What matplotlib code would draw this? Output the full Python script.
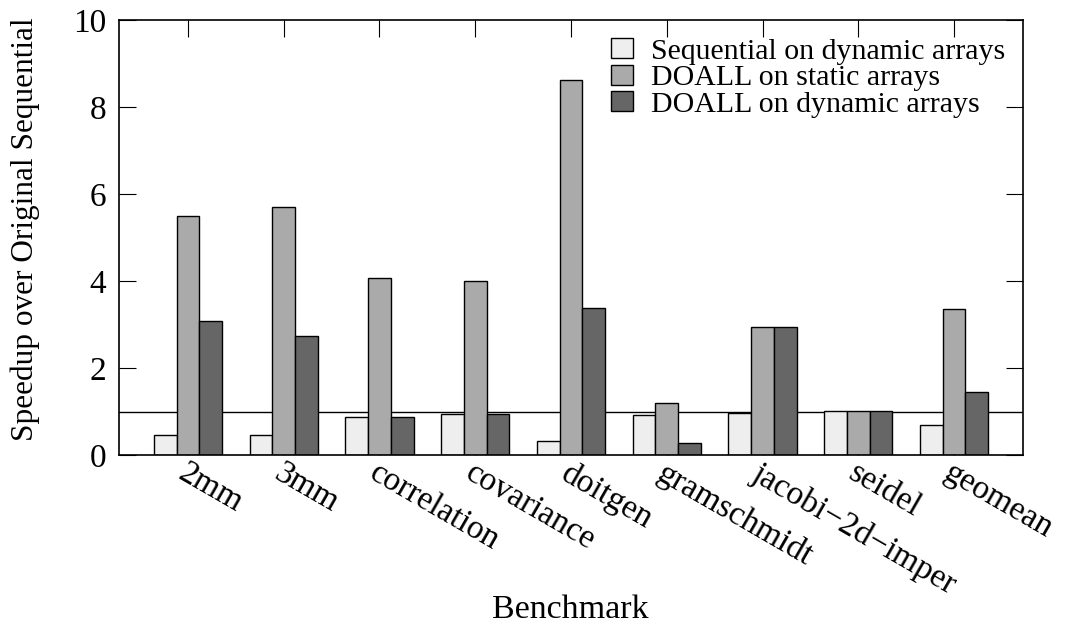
import matplotlib
matplotlib.use('Agg')
import matplotlib.pyplot as plt
import numpy as np

plt.rcParams['font.family'] = ['Liberation Serif', 'DejaVu Serif']

benchmarks = ['2mm', '3mm', 'correlation', 'covariance', 'doitgen',
              'gramschmidt', 'jacobi\u22122d\u2212imper', 'seidel', 'geomean']
seq_dynamic = [0.45, 0.46, 0.87, 0.94, 0.32, 0.93, 0.97, 1.01, 0.68]
doall_static = [5.50, 5.69, 4.07, 4.00, 8.63, 1.20, 2.94, 1.02, 3.35]
doall_dynamic = [3.08, 2.74, 0.87, 0.94, 3.37, 0.28, 2.94, 1.01, 1.46]

series = [
    ('Sequential on dynamic arrays', seq_dynamic, '#eeeeee'),
    ('DOALL on static arrays', doall_static, '#aaaaaa'),
    ('DOALL on dynamic arrays', doall_dynamic, '#666666'),
]

fig = plt.figure(figsize=(10.68, 6.24), dpi=100)
ax = fig.add_axes([0.1114, 0.2708, 0.8465, 0.6972])

x = np.arange(len(benchmarks))
w = 0.237
for i, (label, vals, color) in enumerate(series):
    ax.bar(x + (i - 1) * w, vals, w, color=color, edgecolor='black',
           linewidth=1.0, label=label, zorder=2)

# baseline speedup of 1
ax.axhline(1.0, color='black', linewidth=1.0, zorder=1)

ax.set_xlim(-0.72, 8.72)
ax.set_ylim(0, 10)
ax.set_yticks([0, 2, 4, 6, 8, 10])
ax.set_xticks(x)
ax.set_xticklabels(benchmarks, rotation=-30, ha='left', va='top',
                   rotation_mode='anchor', fontsize=24)
ax.tick_params(axis='y', labelsize=24, direction='in', length=12,
               right=True, pad=9)
ax.tick_params(axis='x', direction='in', length=12, top=True, pad=2)
for s in ax.spines.values():
    s.set_linewidth(1.2)

ax.set_ylabel('Speedup over Original Sequential', fontsize=22.5)
ax.yaxis.set_label_coords(-0.087, 0.52)
fig.text(0.534, 6 / 624, 'Benchmark', fontsize=24.5, ha='center', va='baseline')

ax.legend(loc='upper right', frameon=False, fontsize=21.5,
          handlelength=0.74, handleheight=0.67, handletextpad=0.6,
          labelspacing=0.0, borderaxespad=0.3, borderpad=0.3)

fig.savefig('out.png', dpi=100)
